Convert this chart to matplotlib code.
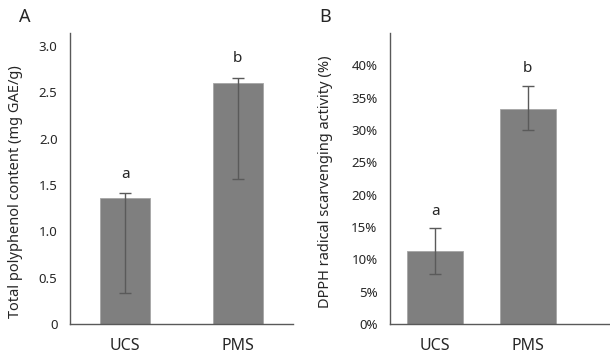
import numpy as np
import matplotlib
matplotlib.use('Agg')
import matplotlib.pyplot as plt

plt.rcParams['font.family'] = ['Noto Sans', 'DejaVu Sans']

# data
groups = ['UCS', 'PMS']

# panel A: total polyphenol content (mg GAE/g)
poly_mean = [1.36, 2.60]
poly_err_low = [1.03, 1.03]
poly_err_high = [0.05, 0.06]
poly_letters = ['a', 'b']
poly_ticks = [0, 0.5, 1.0, 1.5, 2.0, 2.5, 3.0]
poly_ticklabels = ['0', '0.5', '1.0', '1.5', '2.0', '2.5', '3.0']

# panel B: DPPH radical scavenging activity (fraction)
dpph_mean = [0.113, 0.333]
dpph_err_low = [0.036, 0.033]
dpph_err_high = [0.035, 0.035]
dpph_letters = ['a', 'b']
dpph_ticks = [0, 0.05, 0.10, 0.15, 0.20, 0.25, 0.30, 0.35, 0.40]
dpph_ticklabels = ['0%', '5%', '10%', '15%', '20%', '25%', '30%', '35%', '40%']

bar_color = '#7f7f7f'
err_color = '#5a5a5a'
axis_color = '#595959'
text_color = '#262626'

fig = plt.figure(figsize=(6.1, 3.56), dpi=100)
axA = fig.add_axes([0.1148, 0.0899, 0.3656, 0.8171])
axB = fig.add_axes([0.6393, 0.0899, 0.3607, 0.8171])


def draw_panel(ax, mean, lo, hi, letters, ticks, ticklabels, ylim, xlim, width, gap):
    x = np.arange(len(groups))
    ax.bar(x, mean, width=width, color=bar_color, edgecolor='#a6a6a6', linewidth=0.6, zorder=2)
    ax.errorbar(x, mean, yerr=[lo, hi], fmt='none', ecolor=err_color,
                elinewidth=1.0, capsize=4, capthick=1.0, zorder=3)
    for xi, m, h, lab in zip(x, mean, hi, letters):
        ax.text(xi, m + h + gap, lab, ha='center', va='bottom', fontsize=11, color=text_color)
    ax.set_xlim(*xlim)
    ax.set_ylim(*ylim)
    ax.set_xticks(x)
    ax.set_xticklabels(groups, fontsize=11.5, color=text_color)
    ax.set_yticks(ticks)
    ax.set_yticklabels(ticklabels, fontsize=9.5, color=text_color)
    ax.tick_params(axis='y', length=0, pad=9)
    ax.tick_params(axis='x', length=0, pad=10)
    for s in ['top', 'right']:
        ax.spines[s].set_visible(False)
    for s in ['left', 'bottom']:
        ax.spines[s].set_color(axis_color)
        ax.spines[s].set_linewidth(1.0)


draw_panel(axA, poly_mean, poly_err_low, poly_err_high, poly_letters,
           poly_ticks, poly_ticklabels, (0, 3.14), (-0.49, 1.49), 0.44, 0.12)
draw_panel(axB, dpph_mean, dpph_err_low, dpph_err_high, dpph_letters,
           dpph_ticks, dpph_ticklabels, (0, 0.45), (-0.49, 1.89), 0.61, 0.015)

# y labels and panel letters
fig.text(0.025, 0.463, 'Total polyphenol content (mg GAE/g)', rotation=90,
         ha='center', va='center', fontsize=10.5, color=text_color)
fig.text(0.533, 0.49, 'DPPH radical scarvenging activity (%)', rotation=90,
         ha='center', va='center', fontsize=10.5, color=text_color)
fig.text(0.041, 0.952, 'A', ha='center', va='center', fontsize=13, color=text_color)
fig.text(0.533, 0.952, 'B', ha='center', va='center', fontsize=13, color=text_color)

fig.savefig('out.png', dpi=100)
